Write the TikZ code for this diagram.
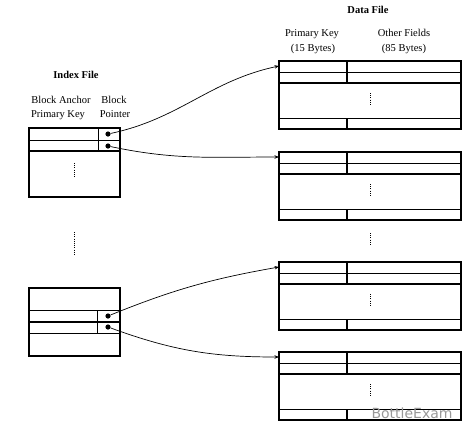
\documentclass[tikz,border=0pt]{standalone}
\usepackage{fontspec}
\setmainfont{Liberation Serif}
\newfontfamily\wmfont{DejaVu Sans}
\usetikzlibrary{arrows.meta}
\begin{document}
\begin{tikzpicture}[x=1pt,y=-1pt,
  thk/.style={line width=1.3pt},
  thn/.style={line width=0.7pt},
  lbl/.style={font=\fontsize{10.5}{12}\selectfont, inner sep=0pt, anchor=base},
  ttl/.style={font=\fontsize{10.5}{12}\selectfont\bfseries, inner sep=0pt, anchor=base},
  ptr/.style={circle, fill=black, inner sep=0pt, minimum size=5.2pt},
  vd/.style={line width=0.8pt, dash pattern=on 0.8pt off 1.4pt},
  conn/.style={line width=0.7pt, -{Stealth[length=4.5pt,width=3.5pt]}}]
\useasboundingbox (0,0) rectangle (471,429);

% ---------- Index file ----------
\node[ttl] (ititle) at (76,78) {Index File};
\node[lbl] (ba) at (61,103) {Block Anchor};
\node[lbl] (pk) at (58,117) {Primary Key};
\node[lbl] (bl) at (114,103) {Block};
\node[lbl] (bp) at (115,117) {Pointer};

% block 1
\draw[thk] (29,128) rectangle (120,197);
\draw[thn] (29,140) -- (120,140);
\draw[thk] (29,151) -- (120,151);
\draw[thn] (98,128) -- (98,151);
\draw[vd] (74,163) -- (74,177);
\node[ptr] (p1) at (108,134) {};
\node[ptr] (p2) at (108,146) {};

% gap ellipsis
\draw[vd] (74,232) -- (74,256);

% block 2
\draw[thk] (29,288) rectangle (120,356);
\draw[thn] (29,310) -- (120,310);
\draw[thk] (29,322) -- (120,322);
\draw[thn] (29,333) -- (120,333);
\draw[thn] (97,310) -- (97,333);
\node[ptr] (p3) at (108,316) {};
\node[ptr] (p4) at (108,327) {};

% ---------- Data file ----------
\node[ttl] (dtitle) at (368,13) {Data File};
\node[lbl] (dpk) at (312,36) {Primary Key};
\node[lbl] (d15) at (313,51) {(15 Bytes)};
\node[lbl] (dof) at (404,36) {Other Fields};
\node[lbl] (d85) at (404,51) {(85 Bytes)};

\foreach \T/\n in {61/1,152/2,262/3,352/4}{
  \draw[thk] (279,\T) rectangle (461,\T+68);
  \draw[thn] (279,\T+11) -- (461,\T+11);
  \draw[thk] (279,\T+22) -- (461,\T+22);
  \draw[thn] (279,\T+57) -- (461,\T+57);
  \draw[thk] (347,\T) -- (347,\T+22);
  \draw[thk] (347,\T+57) -- (347,\T+68);
  \draw[vd] (370,\T+32) -- (370,\T+45);
  \coordinate (d\n) at (279,\T+5);
}
\draw[vd] (370,233) -- (370,246);

% ---------- connectors ----------
\draw[conn] (p1) to[out=12,in=192] (d1);
\draw[conn] (p2) to[out=-12,in=180] (d2);
\draw[conn] (p3) to[out=22,in=190] (d3);
\draw[conn] (p4) to[out=-20,in=180] (d4);

% watermark
\node[font=\wmfont\fontsize{14}{15}\selectfont, text=black!40, inner sep=0pt] (wm) at (412,413) {BottleExam};
\end{tikzpicture}
\end{document}
